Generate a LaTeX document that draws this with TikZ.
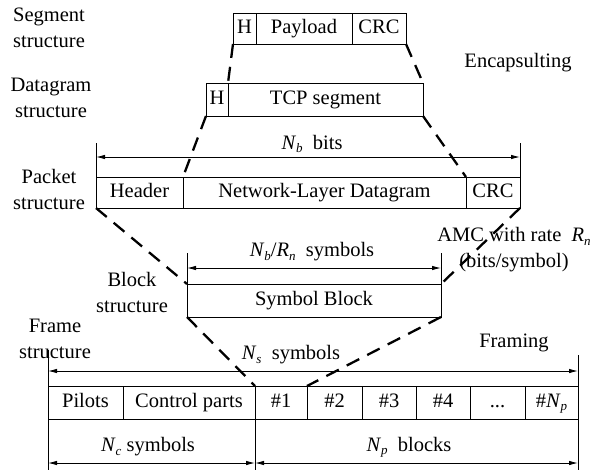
\documentclass[tikz,border=0pt]{standalone}
\usepackage{fontspec}
\setmainfont{Liberation Serif}
\usetikzlibrary{arrows.meta,calc}
\newcommand{\sbx}[1]{\raisebox{-0.35ex}{\fontsize{13}{13}\selectfont\itshape #1}}
\begin{document}
\begin{tikzpicture}[x=1pt,y=-1pt,
  font=\fontsize{20.5}{26}\selectfont,
  cell/.style={draw, line width=1pt, anchor=north west, inner sep=0pt, outer sep=0pt, text height=14pt, text depth=4pt},
  enc/.style={line width=2.3pt, dash pattern=on 14pt off 9pt},
  dim/.style={line width=0.9pt, {Latex[length=9pt,width=4.5pt]}-{Latex[length=9pt,width=4.5pt]}},
  bar/.style={line width=1pt},
  lbl/.style={align=center, inner sep=0pt}]
\useasboundingbox (0,0) rectangle (613,472);
% Segment
\node[cell,minimum width=23pt,minimum height=31pt] (sH) at (233,13) {H};
\node[cell,minimum width=96pt,minimum height=31pt] (sP) at (256,13) {Payload};
\node[cell,minimum width=54pt,minimum height=31pt] (sC) at (352,13) {CRC};
% Datagram
\node[cell,minimum width=22pt,minimum height=33pt] (dH) at (206,83) {H};
\node[cell,minimum width=195pt,minimum height=33pt] (dT) at (228,83) {TCP segment};
% Packet
\node[cell,minimum width=87pt,minimum height=31pt] (pH) at (96,177) {Header};
\node[cell,minimum width=283pt,minimum height=31pt] (pN) at (183,177) {Network-Layer Datagram};
\node[cell,minimum width=54pt,minimum height=31pt] (pC) at (466,177) {CRC};
% Block
\node[cell,minimum width=254pt,minimum height=33pt] (bS) at (187,284) {Symbol Block};
% Frame
\node[cell,minimum width=75pt,minimum height=33pt] (f0) at (48,386) {Pilots};
\node[cell,minimum width=132pt,minimum height=33pt] (fc) at (123,386) {Control parts};
\node[cell,minimum width=52pt,minimum height=33pt] (f1) at (255,386) {\#1};
\node[cell,minimum width=55pt,minimum height=33pt] (f2) at (307,386) {\#2};
\node[cell,minimum width=54pt,minimum height=33pt] (f3) at (362,386) {\#3};
\node[cell,minimum width=54pt,minimum height=33pt] (f4) at (416,386) {\#4};
\node[cell,minimum width=55pt,minimum height=33pt] (f5) at (470,386) {...};
\node[cell,minimum width=53pt,minimum height=33pt] (f6) at (525,386) {\#\textit{N}\sbx{p}};
% encapsulation dashed lines
\draw[enc] (sH.south west) -- (dH.north east);
\draw[enc] (sC.south east) -- (dT.north east);
\draw[enc] (dH.south west) -- (pN.north west);
\draw[enc] (dT.south east) -- (pC.north west);
\draw[enc] (pH.south west) -- (bS.north west);
\draw[enc] (pC.south east) -- (bS.north east);
\draw[enc] (bS.south west) -- (f1.north west);
\draw[enc] (bS.south east) -- (f2.north west);
% dimension bars
\coordinate (pbl) at (96,143); \coordinate (pbr) at (520,143);
\draw[bar] (pbl) -- (pH.north west);
\draw[bar] (pbr) -- (pC.north east);
\draw[dim] (pH.north west |- 0,157) -- (pC.north east |- 0,157);
\coordinate (bbl) at (187,253); \coordinate (bbr) at (441,253);
\draw[bar] (bbl) -- (bS.north west);
\draw[bar] (bbr) -- (bS.north east);
\draw[dim] (bS.north west |- 0,268) -- (bS.north east |- 0,268);
\coordinate (fbl) at (48,350); \coordinate (fbr) at (578,355);
\coordinate (fll) at (48,470); \coordinate (flm) at (255,470); \coordinate (flr) at (578,470);
\draw[bar] (fbl) -- (fll);
\draw[bar] (fbr) -- (flr);
\draw[bar] (f1.north west) -- (flm);
\draw[dim] (f0.north west |- 0,371) -- (f6.north east |- 0,371);
\draw[dim] (f0.south west |- 0,463) -- (f1.south west |- 0,463);
\draw[dim] (f1.south west |- 0,463) -- (f6.south east |- 0,463);
% dimension labels
\node[lbl] (lNb) at (312,144) {\textit{N}\sbx{b}~ bits};
\node[lbl] (lNbR) at (312,252) {\textit{N}\sbx{b}/\textit{R}\sbx{n}~ symbols};
\node[lbl] (lNs) at (291,355) {\textit{N}\sbx{s}~ symbols};
\node[lbl] (lNc) at (148,447) {\textit{N}\sbx{c} symbols};
\node[lbl] (lNp) at (409,447) {\textit{N}\sbx{p}~ blocks};
% side labels
\node[lbl] (tSeg) at (49,28) {Segment\\structure};
\node[lbl] (tDat) at (51,98) {Datagram\\structure};
\node[lbl] (tPkt) at (49,189) {Packet\\structure};
\node[lbl] (tBlk) at (132,292) {Block\\structure};
\node[lbl] (tFrm) at (55,339) {Frame\\structure};
\node[lbl] (tEnc) at (518,63) {Encapsulting};
\node[lbl] (tFra) at (514,343) {Framing};
\node[lbl] (tAMC) at (514,250) {AMC with rate~ \textit{R}\sbx{n}\\(bits/symbol)};
\end{tikzpicture}
\end{document}
